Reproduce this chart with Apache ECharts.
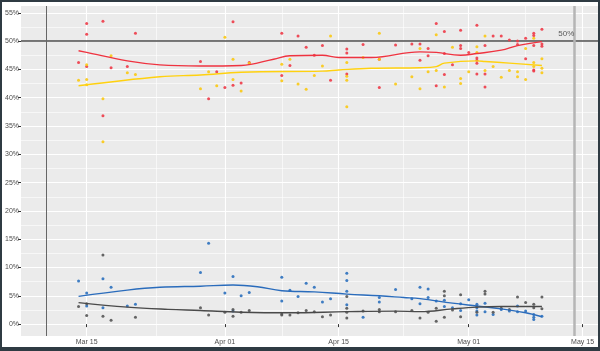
<!DOCTYPE html>
<html>
<head>
<meta charset="utf-8">
<script src="https://cdn.jsdelivr.net/npm/echarts@6/dist/echarts.min.js"></script>
<style>
  html, body { margin: 0; padding: 0; background: #fff; }
  #frame { width: 600px; height: 351px; box-sizing: border-box; border: 2px solid #2f3b43; border-bottom-width: 4px; }
  #chart { width: 596px; height: 345px; }
</style>
</head>
<body>
<div id="frame"><div id="chart"></div></div>
<script>
// poll points [MM-DD, %] (2023)
var redPolls = [['03-14',46.2],['03-15',53.1],['03-15',51.2],['03-15',45.5],['03-17',53.5],['03-17',36.8],['03-18',45.3],
  ['03-20',45.5],['03-21',51.4],['03-29',46.4],['03-30',39.8],['03-31',44.6],['04-01',41.8],['04-02',53.4],['04-02',42.2],
  ['04-03',42.6],['04-04',46.2],['04-08',51.4],['04-08',43.9],['04-09',45.7],['04-10',50.9],['04-11',48.9],['04-12',47.5],
  ['04-13',49.2],['04-14',43.1],['04-16',48.6],['04-16',47.9],['04-16',44.2],['04-18',49.4],['04-20',46.8],['04-20',41.8],
  ['04-22',49.3],['04-24',49.5],['04-25',49.5],['04-25',46.6],['04-26',48.7],['04-26',47.4],['04-27',53.1],['04-27',42.1],
  ['04-28',51.7],['04-28',47.8],['04-28',44.1],['04-29',45.8],['04-30',51.9],['04-30',49.2],['04-30',48.7],['05-01',48.0],
  ['05-02',52.8],['05-02',47.0],['05-02',46.6],['05-02',46.1],['05-02',44.2],['05-03',49.2],['05-03',44.2],['05-03',41.9],
  ['05-04',50.9],['05-05',50.9],['05-06',50.2],['05-07',50.0],['05-07',49.4],['05-08',50.5],['05-08',46.9],
  ['05-09',51.4],['05-09',51.0],['05-09',49.2],['05-09',44.9],['05-09',44.7],['05-10',52.1],['05-10',49.5],['05-10',49.1]];

var yellowPolls = [['03-14',43.1],['03-15',45.8],['03-15',43.2],['03-15',42.3],['03-17',39.8],['03-17',32.2],['03-18',47.4],
  ['03-20',44.4],['03-21',44.1],['03-29',41.6],['03-30',44.6],['03-31',42.1],['04-01',50.7],['04-02',46.8],['04-02',43.2],
  ['04-03',41.2],['04-04',46.1],['04-08',45.9],['04-08',43.0],['04-09',46.8],['04-10',42.4],['04-11',41.5],['04-12',43.9],
  ['04-13',45.6],['04-14',50.9],['04-16',46.2],['04-16',43.8],['04-16',43.1],['04-16',38.4],['04-18',47.1],['04-20',51.4],
  ['04-20',46.8],['04-22',42.4],['04-24',43.7],['04-25',48.7],['04-25',41.6],['04-26',44.6],['04-27',51.1],['04-27',44.8],
  ['04-28',41.9],['04-29',48.9],['04-30',43.4],['04-30',42.5],['05-01',44.6],['05-02',49.0],['05-02',48.0],['05-03',50.9],
  ['05-03',44.8],['05-04',45.5],['05-05',43.6],['05-06',44.8],['05-07',44.6],['05-07',43.7],['05-08',48.7],['05-08',43.2],
  ['05-09',50.5],['05-09',46.2],['05-09',45.5],['05-10',46.9],['05-10',45.2],['05-10',44.4]];

var bluePolls = [['03-14',7.6],['03-15',5.5],['03-15',3.2],['03-17',8.0],['03-17',2.9],['03-18',6.5],['03-20',3.2],['03-21',3.5],
  ['03-29',9.1],['03-30',14.3],['04-01',5.5],['04-02',8.4],['04-02',2.3],['04-03',5.0],['04-04',5.6],['04-08',8.3],['04-08',4.1],
  ['04-09',6.0],['04-10',4.9],['04-11',7.2],['04-12',6.5],['04-13',3.9],['04-14',4.5],['04-16',9.0],['04-16',7.7],['04-16',5.8],
  ['04-16',3.4],['04-18',1.2],['04-20',4.7],['04-20',3.9],['04-22',6.1],['04-24',4.5],['04-25',6.5],['04-25',3.6],['04-26',6.2],
  ['04-26',4.7],['04-27',4.1],['04-28',4.2],['04-28',3.1],['04-29',2.9],['04-30',3.6],['04-30',2.4],['05-01',4.3],['05-02',3.5],
  ['05-02',2.9],['05-02',2.3],['05-02',1.6],['05-03',3.7],['05-03',2.2],['05-04',1.7],['05-05',2.6],['05-06',2.3],['05-07',3.2],
  ['05-07',2.2],['05-08',2.3],['05-09',1.7],['05-09',1.2],['05-09',0.8],['05-10',1.4]];

var greyPolls = [['03-14',3.1],['03-15',3.6],['03-15',1.5],['03-17',12.2],['03-17',1.4],['03-18',0.7],['03-21',1.2],['03-29',2.9],
  ['03-30',1.6],['04-01',2.1],['04-02',2.6],['04-02',1.4],['04-03',2.1],['04-04',2.4],['04-08',1.8],['04-08',1.6],['04-09',1.6],
  ['04-10',2.0],['04-11',2.4],['04-12',2.2],['04-13',1.3],['04-14',1.6],['04-16',4.9],['04-16',2.8],['04-16',2.1],['04-16',1.1],
  ['04-18',2.3],['04-20',2.6],['04-20',2.2],['04-22',2.2],['04-24',2.4],['04-25',1.1],['04-26',2.1],['04-27',2.8],['04-27',0.5],
  ['04-28',5.8],['04-28',5.0],['04-28',1.2],['04-29',2.5],['04-30',5.2],['04-30',1.3],['05-02',3.1],['05-02',2.1],['05-03',5.8],
  ['05-03',5.3],['05-04',2.1],['05-05',2.8],['05-06',2.6],['05-07',4.8],['05-08',3.8],['05-09',3.5],['05-09',2.9],['05-10',4.8],
  ['05-10',2.7]];

// smoothed trend
var redTrend = [['03-14',48.3],['03-15',48.0],['03-20',46.5],['03-24',45.8],['03-29',45.6],['04-03',45.7],['04-07',46.8],
  ['04-09',47.4],['04-13',47.5],['04-15',47.1],['04-19',47.1],['04-25',48.1],['04-27',48.0],['04-30',47.5],['05-02',47.8],
  ['05-05',48.4],['05-07',49.2],['05-10',49.9]];
var yellowTrend = [['03-14',42.1],['03-24',43.7],['03-29',44.0],['04-03',44.5],['04-13',44.7],['04-15',44.9],['04-19',45.2],
  ['04-25',45.3],['04-27',45.5],['04-28',46.1],['05-02',46.5],['05-03',46.4],['05-06',46.1],['05-10',45.7]];
var blueTrend = [['03-14',4.9],['03-20',6.0],['03-24',6.5],['03-29',6.7],['04-02',6.9],['04-05',6.6],['04-08',5.9],['04-12',5.7],
  ['04-16',5.3],['04-20',5.0],['04-23',4.7],['04-25',4.5],['04-29',3.7],['05-02',3.2],['05-05',2.7],['05-08',2.0],['05-10',1.3]];
var greyTrend = [['03-14',3.8],['03-20',3.0],['03-25',2.6],['03-29',2.4],['04-03',2.1],['04-09',2.0],['04-16',2.2],['04-22',2.3],
  ['04-25',2.2],['04-29',2.7],['05-02',3.0],['05-05',3.1],['05-10',3.1]];

var yTicks = [0, 5, 10, 15, 20, 25, 30, 35, 40, 45, 50, 55];
var yMinor = [2.5, 7.5, 12.5, 17.5, 22.5, 27.5, 32.5, 37.5, 42.5, 47.5, 52.5];
var xTicks = ['03-15', '04-01', '04-15', '05-01', '05-15'];
var xMinor = ['03-23 12:00', '04-08', '04-23', '05-08'];
var monthNames = ['Jan','Feb','Mar','Apr','May','Jun','Jul','Aug','Sep','Oct','Nov','Dec'];

function ts(md) {
  var p = md.split(' ');
  var d = p[0].split('-');
  var t = Date.UTC(2023, +d[0] - 1, +d[1]);
  if (p[1]) t += 12 * 3600 * 1000;
  return t;
}
function pts(arr) { return arr.map(function (r) { return [ts(r[0]), r[1]]; }); }

var DAY = 86400000;
var xMin = ts('03-15') - 8.08 * DAY;
var xMax = ts('03-15') + 62.9 * DAY;
var yMin = -2.1, yMax = 56.2;

var myChart = echarts.init(document.getElementById('chart'));

function pointSeries(data, color) {
  return {
    type: 'scatter', data: pts(data), symbol: 'circle', symbolSize: 3,
    itemStyle: { color: color, opacity: 0.9 }, silent: true, z: 3
  };
}
function trendSeries(data, color) {
  return {
    type: 'line', data: pts(data), smooth: 0.4, showSymbol: false,
    lineStyle: { color: color, width: 1.4 }, silent: true, z: 4
  };
}

var option = {
  animation: false,
  backgroundColor: '#fff',
  grid: { left: 19, right: 0, top: 4, bottom: 11, backgroundColor: '#ebebeb', show: true, borderWidth: 0, outerBoundsMode: 'none' },
  xAxis: [
    {
      type: 'value', min: xMin, max: xMax,
      axisLine: { show: false },
      axisTick: { show: true, length: 3, lineStyle: { color: '#333' }, customValues: xTicks.map(ts) },
      axisLabel: {
        customValues: xTicks.map(ts), margin: 3, color: '#4d4d4d', fontSize: 7, fontFamily: 'Liberation Sans',
        formatter: function (v) {
          var d = new Date(v);
          var dd = d.getUTCDate();
          return monthNames[d.getUTCMonth()] + ' ' + (dd < 10 ? '0' + dd : dd);
        }
      },
      splitLine: { show: true, lineStyle: { color: '#fff', width: 1.1 } }
    },
    {
      type: 'value', min: xMin, max: xMax, position: 'bottom',
      axisLine: { show: false }, axisLabel: { show: false },
      axisTick: { show: false, customValues: xMinor.map(ts) },
      splitLine: { show: true, lineStyle: { color: '#fff', width: 0.6 } }
    }
  ],
  yAxis: [
    {
      type: 'value', min: yMin, max: yMax,
      axisLine: { show: false },
      axisTick: { show: true, length: 3, lineStyle: { color: '#333' }, customValues: yTicks },
      axisLabel: { customValues: yTicks, margin: 2, color: '#4d4d4d', fontSize: 7, fontFamily: 'Liberation Sans', formatter: '{value}%' },
      splitLine: { show: true, lineStyle: { color: '#fff', width: 1.1 } }
    },
    {
      type: 'value', min: yMin, max: yMax, position: 'left',
      axisLine: { show: false }, axisLabel: { show: false },
      axisTick: { show: false, customValues: yMinor },
      splitLine: { show: true, lineStyle: { color: '#fff', width: 0.6 } }
    }
  ],
  series: [
    {
      type: 'scatter', data: [[ts('05-13'), 50]], symbolSize: 0, silent: true, z: 5,
      label: { show: true, position: 'top', distance: 3, formatter: '50%', color: '#333', fontSize: 8, fontFamily: 'Liberation Sans' },
      markLine: {
        silent: true, symbol: ['none', 'none'], label: { show: false }, z: 2,
        data: [
          { yAxis: 50, lineStyle: { color: '#4d4d4d', width: 1.5, type: 'solid' } },
          { xAxis: ts('03-10'), lineStyle: { color: '#666', width: 1, type: 'solid' } },
          { xAxis: ts('05-14'), lineStyle: { color: '#b5b5b5', width: 2.5, type: 'solid' } }
        ]
      }
    },
    pointSeries(redPolls, '#ee3b48'),
    pointSeries(yellowPolls, '#fbc913'),
    pointSeries(bluePolls, '#2b70be'),
    pointSeries(greyPolls, '#555555'),
    trendSeries(redTrend, '#ef3340'),
    trendSeries(yellowTrend, '#ffd10f'),
    trendSeries(blueTrend, '#2a6cbc'),
    trendSeries(greyTrend, '#4a4a4a')
  ]
};

myChart.setOption(option);
</script>
</body>
</html>
